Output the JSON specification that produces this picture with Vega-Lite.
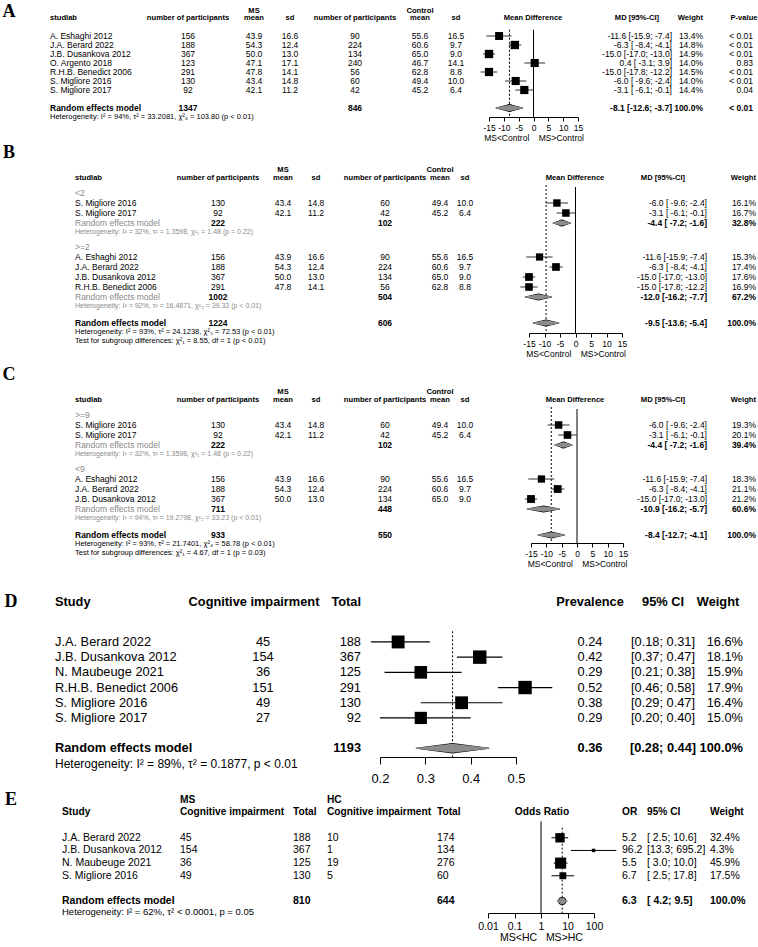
{
  "$schema": "https://vega.github.io/schema/vega-lite/v6.json",
  "padding": 0,
  "background": "white",
  "config": {"view": {"stroke": null}, "font": "Liberation Sans", "text": {"font": "Liberation Sans"}},
  "datasets": {
    "cells": [
      {"p":"A","row":-0.7,"col":0,"txt":"A","kind":"lab"},
      {"p":"A","row":-0.8,"col":3,"txt":"MS","kind":"head"},
      {"p":"A","row":-0.8,"col":6,"txt":"Control","kind":"head"},
      {"p":"A","row":0,"col":1,"txt":"studlab","kind":"head"},
      {"p":"A","row":0,"col":2,"txt":"number of participants","kind":"head"},
      {"p":"A","row":0,"col":3,"txt":"mean","kind":"head"},
      {"p":"A","row":0,"col":4,"txt":"sd","kind":"head"},
      {"p":"A","row":0,"col":5,"txt":"number of participants","kind":"head"},
      {"p":"A","row":0,"col":6,"txt":"mean","kind":"head"},
      {"p":"A","row":0,"col":7,"txt":"sd","kind":"head"},
      {"p":"A","row":0,"col":8,"txt":"Mean Difference","kind":"head"},
      {"p":"A","row":0,"col":9,"txt":"MD [95%-CI]","kind":"head"},
      {"p":"A","row":0,"col":11,"txt":"Weight","kind":"head"},
      {"p":"A","row":0,"col":12,"txt":"P-value","kind":"head"},
      {"p":"A","row":2,"col":1,"txt":"A. Eshaghi 2012","kind":"s"},
      {"p":"A","row":2,"col":2,"txt":"156","kind":"s"},
      {"p":"A","row":2,"col":3,"txt":"43.9","kind":"s"},
      {"p":"A","row":2,"col":4,"txt":"16.6","kind":"s"},
      {"p":"A","row":2,"col":5,"txt":"90","kind":"s"},
      {"p":"A","row":2,"col":6,"txt":"55.6","kind":"s"},
      {"p":"A","row":2,"col":7,"txt":"16.5","kind":"s"},
      {"p":"A","row":2,"col":10,"txt":"-11.6 [-15.9; -7.4]","kind":"s"},
      {"p":"A","row":2,"col":11,"txt":"13.4%","kind":"s"},
      {"p":"A","row":2,"col":13,"txt":"< 0.01","kind":"s"},
      {"p":"A","row":3,"col":1,"txt":"J.A. Berard 2022","kind":"s"},
      {"p":"A","row":3,"col":2,"txt":"188","kind":"s"},
      {"p":"A","row":3,"col":3,"txt":"54.3","kind":"s"},
      {"p":"A","row":3,"col":4,"txt":"12.4","kind":"s"},
      {"p":"A","row":3,"col":5,"txt":"224","kind":"s"},
      {"p":"A","row":3,"col":6,"txt":"60.6","kind":"s"},
      {"p":"A","row":3,"col":7,"txt":"9.7","kind":"s"},
      {"p":"A","row":3,"col":10,"txt":"-6.3 [ -8.4; -4.1]","kind":"s"},
      {"p":"A","row":3,"col":11,"txt":"14.8%","kind":"s"},
      {"p":"A","row":3,"col":13,"txt":"< 0.01","kind":"s"},
      {"p":"A","row":4,"col":1,"txt":"J.B. Dusankova 2012","kind":"s"},
      {"p":"A","row":4,"col":2,"txt":"367","kind":"s"},
      {"p":"A","row":4,"col":3,"txt":"50.0","kind":"s"},
      {"p":"A","row":4,"col":4,"txt":"13.0","kind":"s"},
      {"p":"A","row":4,"col":5,"txt":"134","kind":"s"},
      {"p":"A","row":4,"col":6,"txt":"65.0","kind":"s"},
      {"p":"A","row":4,"col":7,"txt":"9.0","kind":"s"},
      {"p":"A","row":4,"col":10,"txt":"-15.0 [-17.0; -13.0]","kind":"s"},
      {"p":"A","row":4,"col":11,"txt":"14.9%","kind":"s"},
      {"p":"A","row":4,"col":13,"txt":"< 0.01","kind":"s"},
      {"p":"A","row":5,"col":1,"txt":"O. Argento 2018","kind":"s"},
      {"p":"A","row":5,"col":2,"txt":"123","kind":"s"},
      {"p":"A","row":5,"col":3,"txt":"47.1","kind":"s"},
      {"p":"A","row":5,"col":4,"txt":"17.1","kind":"s"},
      {"p":"A","row":5,"col":5,"txt":"240","kind":"s"},
      {"p":"A","row":5,"col":6,"txt":"46.7","kind":"s"},
      {"p":"A","row":5,"col":7,"txt":"14.1","kind":"s"},
      {"p":"A","row":5,"col":10,"txt":"0.4 [ -3.1;  3.9]","kind":"s"},
      {"p":"A","row":5,"col":11,"txt":"14.0%","kind":"s"},
      {"p":"A","row":5,"col":13,"txt":"0.83","kind":"s"},
      {"p":"A","row":6,"col":1,"txt":"R.H.B. Benedict 2006","kind":"s"},
      {"p":"A","row":6,"col":2,"txt":"291","kind":"s"},
      {"p":"A","row":6,"col":3,"txt":"47.8","kind":"s"},
      {"p":"A","row":6,"col":4,"txt":"14.1","kind":"s"},
      {"p":"A","row":6,"col":5,"txt":"56","kind":"s"},
      {"p":"A","row":6,"col":6,"txt":"62.8","kind":"s"},
      {"p":"A","row":6,"col":7,"txt":"8.8","kind":"s"},
      {"p":"A","row":6,"col":10,"txt":"-15.0 [-17.8; -12.2]","kind":"s"},
      {"p":"A","row":6,"col":11,"txt":"14.5%","kind":"s"},
      {"p":"A","row":6,"col":13,"txt":"< 0.01","kind":"s"},
      {"p":"A","row":7,"col":1,"txt":"S. Migliore 2016","kind":"s"},
      {"p":"A","row":7,"col":2,"txt":"130","kind":"s"},
      {"p":"A","row":7,"col":3,"txt":"43.4","kind":"s"},
      {"p":"A","row":7,"col":4,"txt":"14.8","kind":"s"},
      {"p":"A","row":7,"col":5,"txt":"60","kind":"s"},
      {"p":"A","row":7,"col":6,"txt":"49.4","kind":"s"},
      {"p":"A","row":7,"col":7,"txt":"10.0","kind":"s"},
      {"p":"A","row":7,"col":10,"txt":"-6.0 [ -9.6; -2.4]","kind":"s"},
      {"p":"A","row":7,"col":11,"txt":"14.0%","kind":"s"},
      {"p":"A","row":7,"col":13,"txt":"< 0.01","kind":"s"},
      {"p":"A","row":8,"col":1,"txt":"S. Migliore 2017","kind":"s"},
      {"p":"A","row":8,"col":2,"txt":"92","kind":"s"},
      {"p":"A","row":8,"col":3,"txt":"42.1","kind":"s"},
      {"p":"A","row":8,"col":4,"txt":"11.2","kind":"s"},
      {"p":"A","row":8,"col":5,"txt":"42","kind":"s"},
      {"p":"A","row":8,"col":6,"txt":"45.2","kind":"s"},
      {"p":"A","row":8,"col":7,"txt":"6.4","kind":"s"},
      {"p":"A","row":8,"col":10,"txt":"-3.1 [ -6.1; -0.1]","kind":"s"},
      {"p":"A","row":8,"col":11,"txt":"14.4%","kind":"s"},
      {"p":"A","row":8,"col":13,"txt":"0.04","kind":"s"},
      {"p":"A","row":10,"col":1,"txt":"Random effects model","kind":"total"},
      {"p":"A","row":10,"col":2,"txt":"1347","kind":"total"},
      {"p":"A","row":10,"col":5,"txt":"846","kind":"total"},
      {"p":"A","row":10,"col":10,"txt":"-8.1 [-12.6; -3.7]","kind":"total"},
      {"p":"A","row":10,"col":11,"txt":"100.0%","kind":"total"},
      {"p":"A","row":10,"col":13,"txt":"< 0.01","kind":"total"},
      {"p":"A","row":11,"col":1,"txt":"Heterogeneity: I² = 94%, τ² = 33.2081, χ²₆ = 103.80 (p < 0.01)","kind":"het"},

      {"p":"B","row":-4,"col":0,"txt":"B","kind":"lab"},
      {"p":"B","row":-2.3,"col":3,"txt":"MS","kind":"head"},
      {"p":"B","row":-2.3,"col":6,"txt":"Control","kind":"head"},
      {"p":"B","row":-1.5,"col":1,"txt":"studlab","kind":"head"},
      {"p":"B","row":-1.5,"col":2,"txt":"number of participants","kind":"head"},
      {"p":"B","row":-1.5,"col":3,"txt":"mean","kind":"head"},
      {"p":"B","row":-1.5,"col":4,"txt":"sd","kind":"head"},
      {"p":"B","row":-1.5,"col":5,"txt":"number of participants","kind":"head"},
      {"p":"B","row":-1.5,"col":6,"txt":"mean","kind":"head"},
      {"p":"B","row":-1.5,"col":7,"txt":"sd","kind":"head"},
      {"p":"B","row":-1.5,"col":8,"txt":"Mean Difference","kind":"head"},
      {"p":"B","row":-1.5,"col":9,"txt":"MD [95%-CI]","kind":"head"},
      {"p":"B","row":-1.5,"col":11,"txt":"Weight","kind":"head"},
      {"p":"B","row":0,"col":1,"txt":"<2","kind":"sub"},
      {"p":"B","row":1,"col":1,"txt":"S. Migliore 2016","kind":"s"},
      {"p":"B","row":1,"col":2,"txt":"130","kind":"s"},
      {"p":"B","row":1,"col":3,"txt":"43.4","kind":"s"},
      {"p":"B","row":1,"col":4,"txt":"14.8","kind":"s"},
      {"p":"B","row":1,"col":5,"txt":"60","kind":"s"},
      {"p":"B","row":1,"col":6,"txt":"49.4","kind":"s"},
      {"p":"B","row":1,"col":7,"txt":"10.0","kind":"s"},
      {"p":"B","row":1,"col":10,"txt":"-6.0 [ -9.6; -2.4]","kind":"s"},
      {"p":"B","row":1,"col":11,"txt":"16.1%","kind":"s"},
      {"p":"B","row":2,"col":1,"txt":"S. Migliore 2017","kind":"s"},
      {"p":"B","row":2,"col":2,"txt":"92","kind":"s"},
      {"p":"B","row":2,"col":3,"txt":"42.1","kind":"s"},
      {"p":"B","row":2,"col":4,"txt":"11.2","kind":"s"},
      {"p":"B","row":2,"col":5,"txt":"42","kind":"s"},
      {"p":"B","row":2,"col":6,"txt":"45.2","kind":"s"},
      {"p":"B","row":2,"col":7,"txt":"6.4","kind":"s"},
      {"p":"B","row":2,"col":10,"txt":"-3.1 [ -6.1; -0.1]","kind":"s"},
      {"p":"B","row":2,"col":11,"txt":"16.7%","kind":"s"},
      {"p":"B","row":3,"col":1,"txt":"Random effects model","kind":"sublab"},
      {"p":"B","row":3,"col":2,"txt":"222","kind":"total"},
      {"p":"B","row":3,"col":5,"txt":"102","kind":"total"},
      {"p":"B","row":3,"col":10,"txt":"-4.4 [ -7.2; -1.6]","kind":"total"},
      {"p":"B","row":3,"col":11,"txt":"32.8%","kind":"total"},
      {"p":"B","row":3.9,"col":1,"txt":"Heterogeneity: I² = 32%, τ² = 1.3598, χ²₁ = 1.48 (p = 0.22)","kind":"subhet"},
      {"p":"B","row":5.4,"col":1,"txt":">=2","kind":"sub"},
      {"p":"B","row":6.4,"col":1,"txt":"A. Eshaghi 2012","kind":"s"},
      {"p":"B","row":6.4,"col":2,"txt":"156","kind":"s"},
      {"p":"B","row":6.4,"col":3,"txt":"43.9","kind":"s"},
      {"p":"B","row":6.4,"col":4,"txt":"16.6","kind":"s"},
      {"p":"B","row":6.4,"col":5,"txt":"90","kind":"s"},
      {"p":"B","row":6.4,"col":6,"txt":"55.6","kind":"s"},
      {"p":"B","row":6.4,"col":7,"txt":"16.5","kind":"s"},
      {"p":"B","row":6.4,"col":10,"txt":"-11.6 [-15.9; -7.4]","kind":"s"},
      {"p":"B","row":6.4,"col":11,"txt":"15.3%","kind":"s"},
      {"p":"B","row":7.4,"col":1,"txt":"J.A. Berard 2022","kind":"s"},
      {"p":"B","row":7.4,"col":2,"txt":"188","kind":"s"},
      {"p":"B","row":7.4,"col":3,"txt":"54.3","kind":"s"},
      {"p":"B","row":7.4,"col":4,"txt":"12.4","kind":"s"},
      {"p":"B","row":7.4,"col":5,"txt":"224","kind":"s"},
      {"p":"B","row":7.4,"col":6,"txt":"60.6","kind":"s"},
      {"p":"B","row":7.4,"col":7,"txt":"9.7","kind":"s"},
      {"p":"B","row":7.4,"col":10,"txt":"-6.3 [ -8.4; -4.1]","kind":"s"},
      {"p":"B","row":7.4,"col":11,"txt":"17.4%","kind":"s"},
      {"p":"B","row":8.4,"col":1,"txt":"J.B. Dusankova 2012","kind":"s"},
      {"p":"B","row":8.4,"col":2,"txt":"367","kind":"s"},
      {"p":"B","row":8.4,"col":3,"txt":"50.0","kind":"s"},
      {"p":"B","row":8.4,"col":4,"txt":"13.0","kind":"s"},
      {"p":"B","row":8.4,"col":5,"txt":"134","kind":"s"},
      {"p":"B","row":8.4,"col":6,"txt":"65.0","kind":"s"},
      {"p":"B","row":8.4,"col":7,"txt":"9.0","kind":"s"},
      {"p":"B","row":8.4,"col":10,"txt":"-15.0 [-17.0; -13.0]","kind":"s"},
      {"p":"B","row":8.4,"col":11,"txt":"17.6%","kind":"s"},
      {"p":"B","row":9.4,"col":1,"txt":"R.H.B. Benedict 2006","kind":"s"},
      {"p":"B","row":9.4,"col":2,"txt":"291","kind":"s"},
      {"p":"B","row":9.4,"col":3,"txt":"47.8","kind":"s"},
      {"p":"B","row":9.4,"col":4,"txt":"14.1","kind":"s"},
      {"p":"B","row":9.4,"col":5,"txt":"56","kind":"s"},
      {"p":"B","row":9.4,"col":6,"txt":"62.8","kind":"s"},
      {"p":"B","row":9.4,"col":7,"txt":"8.8","kind":"s"},
      {"p":"B","row":9.4,"col":10,"txt":"-15.0 [-17.8; -12.2]","kind":"s"},
      {"p":"B","row":9.4,"col":11,"txt":"16.9%","kind":"s"},
      {"p":"B","row":10.4,"col":1,"txt":"Random effects model","kind":"sublab"},
      {"p":"B","row":10.4,"col":2,"txt":"1002","kind":"total"},
      {"p":"B","row":10.4,"col":5,"txt":"504","kind":"total"},
      {"p":"B","row":10.4,"col":10,"txt":"-12.0 [-16.2; -7.7]","kind":"total"},
      {"p":"B","row":10.4,"col":11,"txt":"67.2%","kind":"total"},
      {"p":"B","row":11.3,"col":1,"txt":"Heterogeneity: I² = 92%, τ² = 16.4871, χ²₃ = 39.33 (p < 0.01)","kind":"subhet"},
      {"p":"B","row":13,"col":1,"txt":"Random effects model","kind":"total"},
      {"p":"B","row":13,"col":2,"txt":"1224","kind":"total"},
      {"p":"B","row":13,"col":5,"txt":"606","kind":"total"},
      {"p":"B","row":13,"col":10,"txt":"-9.5 [-13.6; -5.4]","kind":"total"},
      {"p":"B","row":13,"col":11,"txt":"100.0%","kind":"total"},
      {"p":"B","row":13.9,"col":1,"txt":"Heterogeneity: I² = 93%, τ² = 24.1238, χ²₅ = 72.53 (p < 0.01)","kind":"het"},
      {"p":"B","row":14.8,"col":1,"txt":"Test for subgroup differences: χ²₁ = 8.55, df = 1 (p < 0.01)","kind":"het"},

      {"p":"C","row":-4,"col":0,"txt":"C","kind":"lab"},
      {"p":"C","row":-2.3,"col":3,"txt":"MS","kind":"head"},
      {"p":"C","row":-2.3,"col":6,"txt":"Control","kind":"head"},
      {"p":"C","row":-1.5,"col":1,"txt":"studlab","kind":"head"},
      {"p":"C","row":-1.5,"col":2,"txt":"number of participants","kind":"head"},
      {"p":"C","row":-1.5,"col":3,"txt":"mean","kind":"head"},
      {"p":"C","row":-1.5,"col":4,"txt":"sd","kind":"head"},
      {"p":"C","row":-1.5,"col":5,"txt":"number of participants","kind":"head"},
      {"p":"C","row":-1.5,"col":6,"txt":"mean","kind":"head"},
      {"p":"C","row":-1.5,"col":7,"txt":"sd","kind":"head"},
      {"p":"C","row":-1.5,"col":8,"txt":"Mean Difference","kind":"head"},
      {"p":"C","row":-1.5,"col":9,"txt":"MD [95%-CI]","kind":"head"},
      {"p":"C","row":-1.5,"col":11,"txt":"Weight","kind":"head"},
      {"p":"C","row":0,"col":1,"txt":">=9","kind":"sub"},
      {"p":"C","row":1,"col":1,"txt":"S. Migliore 2016","kind":"s"},
      {"p":"C","row":1,"col":2,"txt":"130","kind":"s"},
      {"p":"C","row":1,"col":3,"txt":"43.4","kind":"s"},
      {"p":"C","row":1,"col":4,"txt":"14.8","kind":"s"},
      {"p":"C","row":1,"col":5,"txt":"60","kind":"s"},
      {"p":"C","row":1,"col":6,"txt":"49.4","kind":"s"},
      {"p":"C","row":1,"col":7,"txt":"10.0","kind":"s"},
      {"p":"C","row":1,"col":10,"txt":"-6.0 [ -9.6; -2.4]","kind":"s"},
      {"p":"C","row":1,"col":11,"txt":"19.3%","kind":"s"},
      {"p":"C","row":2,"col":1,"txt":"S. Migliore 2017","kind":"s"},
      {"p":"C","row":2,"col":2,"txt":"92","kind":"s"},
      {"p":"C","row":2,"col":3,"txt":"42.1","kind":"s"},
      {"p":"C","row":2,"col":4,"txt":"11.2","kind":"s"},
      {"p":"C","row":2,"col":5,"txt":"42","kind":"s"},
      {"p":"C","row":2,"col":6,"txt":"45.2","kind":"s"},
      {"p":"C","row":2,"col":7,"txt":"6.4","kind":"s"},
      {"p":"C","row":2,"col":10,"txt":"-3.1 [ -6.1; -0.1]","kind":"s"},
      {"p":"C","row":2,"col":11,"txt":"20.1%","kind":"s"},
      {"p":"C","row":3,"col":1,"txt":"Random effects model","kind":"sublab"},
      {"p":"C","row":3,"col":2,"txt":"222","kind":"total"},
      {"p":"C","row":3,"col":5,"txt":"102","kind":"total"},
      {"p":"C","row":3,"col":10,"txt":"-4.4 [ -7.2; -1.6]","kind":"total"},
      {"p":"C","row":3,"col":11,"txt":"39.4%","kind":"total"},
      {"p":"C","row":3.9,"col":1,"txt":"Heterogeneity: I² = 32%, τ² = 1.3598, χ²₁ = 1.48 (p = 0.22)","kind":"subhet"},
      {"p":"C","row":5.4,"col":1,"txt":"<9","kind":"sub"},
      {"p":"C","row":6.4,"col":1,"txt":"A. Eshaghi 2012","kind":"s"},
      {"p":"C","row":6.4,"col":2,"txt":"156","kind":"s"},
      {"p":"C","row":6.4,"col":3,"txt":"43.9","kind":"s"},
      {"p":"C","row":6.4,"col":4,"txt":"16.6","kind":"s"},
      {"p":"C","row":6.4,"col":5,"txt":"90","kind":"s"},
      {"p":"C","row":6.4,"col":6,"txt":"55.6","kind":"s"},
      {"p":"C","row":6.4,"col":7,"txt":"16.5","kind":"s"},
      {"p":"C","row":6.4,"col":10,"txt":"-11.6 [-15.9; -7.4]","kind":"s"},
      {"p":"C","row":6.4,"col":11,"txt":"18.3%","kind":"s"},
      {"p":"C","row":7.4,"col":1,"txt":"J.A. Berard 2022","kind":"s"},
      {"p":"C","row":7.4,"col":2,"txt":"188","kind":"s"},
      {"p":"C","row":7.4,"col":3,"txt":"54.3","kind":"s"},
      {"p":"C","row":7.4,"col":4,"txt":"12.4","kind":"s"},
      {"p":"C","row":7.4,"col":5,"txt":"224","kind":"s"},
      {"p":"C","row":7.4,"col":6,"txt":"60.6","kind":"s"},
      {"p":"C","row":7.4,"col":7,"txt":"9.7","kind":"s"},
      {"p":"C","row":7.4,"col":10,"txt":"-6.3 [ -8.4; -4.1]","kind":"s"},
      {"p":"C","row":7.4,"col":11,"txt":"21.1%","kind":"s"},
      {"p":"C","row":8.4,"col":1,"txt":"J.B. Dusankova 2012","kind":"s"},
      {"p":"C","row":8.4,"col":2,"txt":"367","kind":"s"},
      {"p":"C","row":8.4,"col":3,"txt":"50.0","kind":"s"},
      {"p":"C","row":8.4,"col":4,"txt":"13.0","kind":"s"},
      {"p":"C","row":8.4,"col":5,"txt":"134","kind":"s"},
      {"p":"C","row":8.4,"col":6,"txt":"65.0","kind":"s"},
      {"p":"C","row":8.4,"col":7,"txt":"9.0","kind":"s"},
      {"p":"C","row":8.4,"col":10,"txt":"-15.0 [-17.0; -13.0]","kind":"s"},
      {"p":"C","row":8.4,"col":11,"txt":"21.2%","kind":"s"},
      {"p":"C","row":9.4,"col":1,"txt":"Random effects model","kind":"sublab"},
      {"p":"C","row":9.4,"col":2,"txt":"711","kind":"total"},
      {"p":"C","row":9.4,"col":5,"txt":"448","kind":"total"},
      {"p":"C","row":9.4,"col":10,"txt":"-10.9 [-16.2; -5.7]","kind":"total"},
      {"p":"C","row":9.4,"col":11,"txt":"60.6%","kind":"total"},
      {"p":"C","row":10.3,"col":1,"txt":"Heterogeneity: I² = 94%, τ² = 19.2798, χ²₂ = 33.23 (p < 0.01)","kind":"subhet"},
      {"p":"C","row":12,"col":1,"txt":"Random effects model","kind":"total"},
      {"p":"C","row":12,"col":2,"txt":"933","kind":"total"},
      {"p":"C","row":12,"col":5,"txt":"550","kind":"total"},
      {"p":"C","row":12,"col":10,"txt":"-8.4 [-12.7; -4.1]","kind":"total"},
      {"p":"C","row":12,"col":11,"txt":"100.0%","kind":"total"},
      {"p":"C","row":12.9,"col":1,"txt":"Heterogeneity: I² = 93%, τ² = 21.7401, χ²₄ = 58.78 (p < 0.01)","kind":"het"},
      {"p":"C","row":13.8,"col":1,"txt":"Test for subgroup differences: χ²₁ = 4.67, df = 1 (p = 0.03)","kind":"het"},

      {"p":"D","row":-2.6,"col":0,"txt":"D","kind":"lab"},
      {"p":"D","row":-2.6,"col":1,"txt":"Study","kind":"head"},
      {"p":"D","row":-2.6,"col":2,"txt":"Cognitive impairment","kind":"head"},
      {"p":"D","row":-2.6,"col":4,"txt":"Total","kind":"head"},
      {"p":"D","row":-2.6,"col":5,"txt":"Prevalence","kind":"head"},
      {"p":"D","row":-2.6,"col":6,"txt":"95% CI","kind":"head"},
      {"p":"D","row":-2.6,"col":7,"txt":"Weight","kind":"head"},
      {"p":"D","row":0,"col":1,"txt":"J.A. Berard 2022","kind":"s"},
      {"p":"D","row":0,"col":3,"txt":"45","kind":"s"},
      {"p":"D","row":0,"col":4,"txt":"188","kind":"s"},
      {"p":"D","row":0,"col":5,"txt":"0.24","kind":"s"},
      {"p":"D","row":0,"col":6,"txt":"[0.18; 0.31]","kind":"s"},
      {"p":"D","row":0,"col":8,"txt":"16.6%","kind":"s"},
      {"p":"D","row":1,"col":1,"txt":"J.B. Dusankova 2012","kind":"s"},
      {"p":"D","row":1,"col":3,"txt":"154","kind":"s"},
      {"p":"D","row":1,"col":4,"txt":"367","kind":"s"},
      {"p":"D","row":1,"col":5,"txt":"0.42","kind":"s"},
      {"p":"D","row":1,"col":6,"txt":"[0.37; 0.47]","kind":"s"},
      {"p":"D","row":1,"col":8,"txt":"18.1%","kind":"s"},
      {"p":"D","row":2,"col":1,"txt":"N. Maubeuge 2021","kind":"s"},
      {"p":"D","row":2,"col":3,"txt":"36","kind":"s"},
      {"p":"D","row":2,"col":4,"txt":"125","kind":"s"},
      {"p":"D","row":2,"col":5,"txt":"0.29","kind":"s"},
      {"p":"D","row":2,"col":6,"txt":"[0.21; 0.38]","kind":"s"},
      {"p":"D","row":2,"col":8,"txt":"15.9%","kind":"s"},
      {"p":"D","row":3,"col":1,"txt":"R.H.B. Benedict 2006","kind":"s"},
      {"p":"D","row":3,"col":3,"txt":"151","kind":"s"},
      {"p":"D","row":3,"col":4,"txt":"291","kind":"s"},
      {"p":"D","row":3,"col":5,"txt":"0.52","kind":"s"},
      {"p":"D","row":3,"col":6,"txt":"[0.46; 0.58]","kind":"s"},
      {"p":"D","row":3,"col":8,"txt":"17.9%","kind":"s"},
      {"p":"D","row":4,"col":1,"txt":"S. Migliore 2016","kind":"s"},
      {"p":"D","row":4,"col":3,"txt":"49","kind":"s"},
      {"p":"D","row":4,"col":4,"txt":"130","kind":"s"},
      {"p":"D","row":4,"col":5,"txt":"0.38","kind":"s"},
      {"p":"D","row":4,"col":6,"txt":"[0.29; 0.47]","kind":"s"},
      {"p":"D","row":4,"col":8,"txt":"16.4%","kind":"s"},
      {"p":"D","row":5,"col":1,"txt":"S. Migliore 2017","kind":"s"},
      {"p":"D","row":5,"col":3,"txt":"27","kind":"s"},
      {"p":"D","row":5,"col":4,"txt":"92","kind":"s"},
      {"p":"D","row":5,"col":5,"txt":"0.29","kind":"s"},
      {"p":"D","row":5,"col":6,"txt":"[0.20; 0.40]","kind":"s"},
      {"p":"D","row":5,"col":8,"txt":"15.0%","kind":"s"},
      {"p":"D","row":7,"col":1,"txt":"Random effects model","kind":"total"},
      {"p":"D","row":7,"col":4,"txt":"1193","kind":"total"},
      {"p":"D","row":7,"col":5,"txt":"0.36","kind":"total"},
      {"p":"D","row":7,"col":6,"txt":"[0.28; 0.44]","kind":"total"},
      {"p":"D","row":7,"col":8,"txt":"100.0%","kind":"total"},
      {"p":"D","row":8,"col":1,"txt":"Heterogeneity: I² = 89%, τ² = 0.1877, p < 0.01","kind":"het"},

      {"p":"E","row":-3,"col":0,"txt":"E","kind":"lab"},
      {"p":"E","row":-3,"col":2,"txt":"MS","kind":"head"},
      {"p":"E","row":-3,"col":4,"txt":"HC","kind":"head"},
      {"p":"E","row":-2,"col":1,"txt":"Study","kind":"head"},
      {"p":"E","row":-2,"col":2,"txt":"Cognitive impairment","kind":"head"},
      {"p":"E","row":-2,"col":3,"txt":"Total","kind":"head"},
      {"p":"E","row":-2,"col":4,"txt":"Cognitive impairment","kind":"head"},
      {"p":"E","row":-2,"col":5,"txt":"Total","kind":"head"},
      {"p":"E","row":-2,"col":6,"txt":"Odds Ratio","kind":"head"},
      {"p":"E","row":-2,"col":7,"txt":"OR","kind":"head"},
      {"p":"E","row":-2,"col":8,"txt":"95% CI","kind":"head"},
      {"p":"E","row":-2,"col":9,"txt":"Weight","kind":"head"},
      {"p":"E","row":0,"col":1,"txt":"J.A. Berard 2022","kind":"s"},
      {"p":"E","row":0,"col":2,"txt":"45","kind":"s"},
      {"p":"E","row":0,"col":3,"txt":"188","kind":"s"},
      {"p":"E","row":0,"col":4,"txt":"10","kind":"s"},
      {"p":"E","row":0,"col":5,"txt":"174","kind":"s"},
      {"p":"E","row":0,"col":7,"txt":"5.2","kind":"s"},
      {"p":"E","row":0,"col":8,"txt":"[ 2.5; 10.6]","kind":"s"},
      {"p":"E","row":0,"col":9,"txt":"32.4%","kind":"s"},
      {"p":"E","row":1,"col":1,"txt":"J.B. Dusankova 2012","kind":"s"},
      {"p":"E","row":1,"col":2,"txt":"154","kind":"s"},
      {"p":"E","row":1,"col":3,"txt":"367","kind":"s"},
      {"p":"E","row":1,"col":4,"txt":"1","kind":"s"},
      {"p":"E","row":1,"col":5,"txt":"134","kind":"s"},
      {"p":"E","row":1,"col":7,"txt":"96.2","kind":"s"},
      {"p":"E","row":1,"col":8,"txt":"[13.3; 695.2]","kind":"s"},
      {"p":"E","row":1,"col":9,"txt":"4.3%","kind":"s"},
      {"p":"E","row":2,"col":1,"txt":"N. Maubeuge 2021","kind":"s"},
      {"p":"E","row":2,"col":2,"txt":"36","kind":"s"},
      {"p":"E","row":2,"col":3,"txt":"125","kind":"s"},
      {"p":"E","row":2,"col":4,"txt":"19","kind":"s"},
      {"p":"E","row":2,"col":5,"txt":"276","kind":"s"},
      {"p":"E","row":2,"col":7,"txt":"5.5","kind":"s"},
      {"p":"E","row":2,"col":8,"txt":"[ 3.0; 10.0]","kind":"s"},
      {"p":"E","row":2,"col":9,"txt":"45.9%","kind":"s"},
      {"p":"E","row":3,"col":1,"txt":"S. Migliore 2016","kind":"s"},
      {"p":"E","row":3,"col":2,"txt":"49","kind":"s"},
      {"p":"E","row":3,"col":3,"txt":"130","kind":"s"},
      {"p":"E","row":3,"col":4,"txt":"5","kind":"s"},
      {"p":"E","row":3,"col":5,"txt":"60","kind":"s"},
      {"p":"E","row":3,"col":7,"txt":"6.7","kind":"s"},
      {"p":"E","row":3,"col":8,"txt":"[ 2.5; 17.8]","kind":"s"},
      {"p":"E","row":3,"col":9,"txt":"17.5%","kind":"s"},
      {"p":"E","row":5,"col":1,"txt":"Random effects model","kind":"total"},
      {"p":"E","row":5,"col":3,"txt":"810","kind":"total"},
      {"p":"E","row":5,"col":5,"txt":"644","kind":"total"},
      {"p":"E","row":5,"col":7,"txt":"6.3","kind":"total"},
      {"p":"E","row":5,"col":8,"txt":"[ 4.2;  9.5]","kind":"total"},
      {"p":"E","row":5,"col":9,"txt":"100.0%","kind":"total"},
      {"p":"E","row":5.9,"col":1,"txt":"Heterogeneity: I² = 62%, τ² < 0.0001, p = 0.05","kind":"het"}
    ],
    "est": [
      {"p":"A","row":2,"est":-11.6,"lo":-15.9,"hi":-7.4,"w":13.4},
      {"p":"A","row":3,"est":-6.3,"lo":-8.4,"hi":-4.1,"w":14.8},
      {"p":"A","row":4,"est":-15.0,"lo":-17.0,"hi":-13.0,"w":14.9},
      {"p":"A","row":5,"est":0.4,"lo":-3.1,"hi":3.9,"w":14.0},
      {"p":"A","row":6,"est":-15.0,"lo":-17.8,"hi":-12.2,"w":14.5},
      {"p":"A","row":7,"est":-6.0,"lo":-9.6,"hi":-2.4,"w":14.0},
      {"p":"A","row":8,"est":-3.1,"lo":-6.1,"hi":-0.1,"w":14.4},
      {"p":"B","row":1,"est":-6.0,"lo":-9.6,"hi":-2.4,"w":16.1},
      {"p":"B","row":2,"est":-3.1,"lo":-6.1,"hi":-0.1,"w":16.7},
      {"p":"B","row":6.4,"est":-11.6,"lo":-15.9,"hi":-7.4,"w":15.3},
      {"p":"B","row":7.4,"est":-6.3,"lo":-8.4,"hi":-4.1,"w":17.4},
      {"p":"B","row":8.4,"est":-15.0,"lo":-17.0,"hi":-13.0,"w":17.6},
      {"p":"B","row":9.4,"est":-15.0,"lo":-17.8,"hi":-12.2,"w":16.9},
      {"p":"C","row":1,"est":-6.0,"lo":-9.6,"hi":-2.4,"w":19.3},
      {"p":"C","row":2,"est":-3.1,"lo":-6.1,"hi":-0.1,"w":20.1},
      {"p":"C","row":6.4,"est":-11.6,"lo":-15.9,"hi":-7.4,"w":18.3},
      {"p":"C","row":7.4,"est":-6.3,"lo":-8.4,"hi":-4.1,"w":21.1},
      {"p":"C","row":8.4,"est":-15.0,"lo":-17.0,"hi":-13.0,"w":21.2},
      {"p":"D","row":0,"est":0.24,"lo":0.18,"hi":0.31,"w":16.6},
      {"p":"D","row":1,"est":0.42,"lo":0.37,"hi":0.47,"w":18.1},
      {"p":"D","row":2,"est":0.29,"lo":0.21,"hi":0.38,"w":15.9},
      {"p":"D","row":3,"est":0.52,"lo":0.46,"hi":0.58,"w":17.9},
      {"p":"D","row":4,"est":0.38,"lo":0.29,"hi":0.47,"w":16.4},
      {"p":"D","row":5,"est":0.29,"lo":0.20,"hi":0.40,"w":15.0},
      {"p":"E","row":0,"est":5.2,"lo":2.5,"hi":10.6,"w":32.4},
      {"p":"E","row":1,"est":96.2,"lo":13.3,"hi":695.2,"w":4.3},
      {"p":"E","row":2,"est":5.5,"lo":3.0,"hi":10.0,"w":45.9},
      {"p":"E","row":3,"est":6.7,"lo":2.5,"hi":17.8,"w":17.5}
    ],
    "dia": [
      {"p":"A","row":10,"x":-12.6,"v":"tip"},{"p":"A","row":10,"x":-8.1,"v":"mid"},{"p":"A","row":10,"x":-3.7,"v":"tip"},
      {"p":"B","row":3,"x":-7.2,"v":"tip"},{"p":"B","row":3,"x":-4.4,"v":"mid"},{"p":"B","row":3,"x":-1.6,"v":"tip"},
      {"p":"B","row":10.4,"x":-16.2,"v":"tip"},{"p":"B","row":10.4,"x":-12.0,"v":"mid"},{"p":"B","row":10.4,"x":-7.7,"v":"tip"},
      {"p":"B","row":13,"x":-13.6,"v":"tip"},{"p":"B","row":13,"x":-9.5,"v":"mid"},{"p":"B","row":13,"x":-5.4,"v":"tip"},
      {"p":"C","row":3,"x":-7.2,"v":"tip"},{"p":"C","row":3,"x":-4.4,"v":"mid"},{"p":"C","row":3,"x":-1.6,"v":"tip"},
      {"p":"C","row":9.4,"x":-16.2,"v":"tip"},{"p":"C","row":9.4,"x":-10.9,"v":"mid"},{"p":"C","row":9.4,"x":-5.7,"v":"tip"},
      {"p":"C","row":12,"x":-12.7,"v":"tip"},{"p":"C","row":12,"x":-8.4,"v":"mid"},{"p":"C","row":12,"x":-4.1,"v":"tip"},
      {"p":"D","row":7,"x":0.28,"v":"tip"},{"p":"D","row":7,"x":0.36,"v":"mid"},{"p":"D","row":7,"x":0.44,"v":"tip"},
      {"p":"E","row":5,"x":4.2,"v":"tip"},{"p":"E","row":5,"x":6.3,"v":"mid"},{"p":"E","row":5,"x":9.5,"v":"tip"}
    ],
    "ref": [
      {"p":"A","x":0,"from":1.3,"to":11,"lt":"null"},
      {"p":"A","x":-8.1,"from":1.3,"to":11,"lt":"pooled"},
      {"p":"B","x":0,"from":-0.6,"to":14,"lt":"null"},
      {"p":"B","x":-9.5,"from":-0.8,"to":14,"lt":"pooled"},
      {"p":"C","x":0,"from":-0.6,"to":12.8,"lt":"null"},
      {"p":"C","x":-8.4,"from":-0.8,"to":12.8,"lt":"pooled"},
      {"p":"D","x":0.36,"from":-0.7,"to":7.57,"lt":"pooled"},
      {"p":"E","x":1,"from":-1.3,"to":5.94,"lt":"null"},
      {"p":"E","x":6.3,"from":-0.8,"to":5.94,"lt":"pooled"}
    ]
  },
  "spacing": 0,
  "bounds": "flush",
  "vconcat": [
    {
      "width": 758, "height": 117,
      "layer": [
        {
          "encoding": {
            "x": {"type": "quantitative", "scale": {"domain": [-15, 15], "range": [489, 578], "nice": false, "zero": false},
                  "axis": {"orient": "bottom", "values": [-15,-10,-5,0,5,10,15], "labelExpr": "'' + datum.value", "grid": false, "domainColor": "black", "tickColor": "black", "tickSize": 4, "labelFontSize": 8.5, "labelColor": "black", "labelPadding": 2, "labelFlush": false, "labelOverlap": false, "title": "MS<Control\u00a0\u00a0\u00a0\u00a0MS>Control", "titleFontSize": 8.5, "titleFontWeight": "normal", "titleColor": "black", "titlePadding": 2}},
            "y": {"type": "quantitative", "scale": {"domain": [-2, 11], "reverse": true, "nice": false, "zero": false}, "axis": null}
          },
          "layer": [
            {"data": {"name": "est"}, "transform": [{"filter": "datum.p=='A'"}], "mark": {"type": "rule", "color": "#333333", "strokeWidth": 1},
             "encoding": {"x": {"field": "lo"}, "x2": {"field": "hi"}, "y": {"field": "row"}}},
            {"data": {"name": "ref"}, "transform": [{"filter": "datum.p=='A' && datum.lt=='null'"}], "mark": {"type": "rule", "color": "black", "strokeWidth": 1},
             "encoding": {"x": {"field": "x"}, "y": {"field": "from"}, "y2": {"field": "to"}}},
            {"data": {"name": "ref"}, "transform": [{"filter": "datum.p=='A' && datum.lt=='pooled'"}], "mark": {"type": "rule", "color": "black", "strokeWidth": 1, "strokeDash": [2, 2]},
             "encoding": {"x": {"field": "x"}, "y": {"field": "from"}, "y2": {"field": "to"}}},
            {"data": {"name": "est"}, "transform": [{"filter": "datum.p=='A'"}], "mark": {"type": "square", "color": "black", "filled": true, "opacity": 1},
             "encoding": {"x": {"field": "est"}, "y": {"field": "row"},
                          "size": {"field": "w", "type": "quantitative", "scale": {"domain": [0, 100], "range": [0, 470]}, "legend": null}}},
            {"data": {"name": "dia"}, "transform": [{"filter": "datum.p=='A'"}], "mark": {"type": "trail", "color": "black"},
             "encoding": {"x": {"field": "x"}, "y": {"field": "row"}, "detail": {"field": "row", "type": "quantitative"},
                          "size": {"field": "v", "type": "ordinal", "scale": {"type": "ordinal", "domain": ["tip", "mid"], "range": [0, 8]}, "legend": null}}},
            {"data": {"name": "dia"}, "transform": [{"filter": "datum.p=='A'"}], "mark": {"type": "trail", "color": "#8c8c8c"},
             "encoding": {"x": {"field": "x"}, "y": {"field": "row"}, "detail": {"field": "row", "type": "quantitative"},
                          "size": {"field": "v", "type": "ordinal", "scale": {"type": "ordinal", "domain": ["tip", "mid"], "range": [0, 6.5]}, "legend": null}}}
          ],
          "resolve": {"scale": {"size": "independent"}}
        },
        {
          "data": {"name": "cells"},
          "transform": [{"filter": "datum.p=='A'"}],
          "encoding": {
            "x": {"field": "col", "type": "quantitative", "scale": {"domain": [0,1,2,3,4,5,6,7,8,9,10,11,12,13], "range": [9,50,188,254,290,355,420,456,533,637,672,703,744,753], "nice": false, "zero": false}, "axis": null},
            "y": {"field": "row", "type": "quantitative", "scale": {"domain": [-2, 11], "reverse": true, "nice": false, "zero": false}, "axis": null},
            "text": {"field": "txt"},
            "color": {"condition": {"test": "indexof(['sub','sublab','subhet'],datum.kind)>=0", "value": "#8a8a8a"}, "value": "black"},
            "size": {"condition": [{"test": "datum.kind=='head'", "value": 7.6}, {"test": "datum.kind=='het'", "value": 7.5}, {"test": "datum.kind=='subhet'", "value": 7}], "value": 8.5}
          },
          "layer": [
            {"transform": [{"filter": "datum.col==1 && indexof(['head','total','lab'],datum.kind)<0"}], "mark": {"type": "text", "align": "left", "baseline": "middle"}},
            {"transform": [{"filter": "datum.col==1 && (datum.kind=='head'||datum.kind=='total')"}], "mark": {"type": "text", "align": "left", "baseline": "middle", "fontWeight": "bold"}},
            {"transform": [{"filter": "indexof([2,3,4,5,6,7,8,9,12],datum.col)>=0 && indexof(['head','total','lab'],datum.kind)<0"}], "mark": {"type": "text", "align": "center", "baseline": "middle"}},
            {"transform": [{"filter": "indexof([2,3,4,5,6,7,8,9,12],datum.col)>=0 && (datum.kind=='head'||datum.kind=='total')"}], "mark": {"type": "text", "align": "center", "baseline": "middle", "fontWeight": "bold"}},
            {"transform": [{"filter": "indexof([10,11,13],datum.col)>=0 && indexof(['head','total','lab'],datum.kind)<0"}], "mark": {"type": "text", "align": "right", "baseline": "middle"}},
            {"transform": [{"filter": "indexof([10,11,13],datum.col)>=0 && (datum.kind=='head'||datum.kind=='total')"}], "mark": {"type": "text", "align": "right", "baseline": "middle", "fontWeight": "bold"}},
            {"transform": [{"filter": "datum.kind=='lab'"}], "mark": {"type": "text", "align": "center", "baseline": "middle", "font": "Liberation Serif", "fontWeight": "bold"}, "encoding": {"size": {"value": 18}}}
          ]
        }
      ],
      "resolve": {"scale": {"x": "independent"}, "axis": {"x": "independent"}}
    },
    {
      "width": 758, "height": 216,
      "layer": [
        {
          "encoding": {
            "x": {"type": "quantitative", "scale": {"domain": [-15, 15], "range": [529, 622], "nice": false, "zero": false},
                  "axis": {"orient": "bottom", "values": [-15,-10,-5,0,5,10,15], "labelExpr": "'' + datum.value", "grid": false, "domainColor": "black", "tickColor": "black", "tickSize": 4, "labelFontSize": 8.5, "labelColor": "black", "labelPadding": 2, "labelFlush": false, "labelOverlap": false, "title": "MS<Control\u00a0\u00a0\u00a0\u00a0MS>Control", "titleFontSize": 8.5, "titleFontWeight": "normal", "titleColor": "black", "titlePadding": 2}},
            "y": {"type": "quantitative", "scale": {"domain": [-7.6, 14], "reverse": true, "nice": false, "zero": false}, "axis": null}
          },
          "layer": [
            {"data": {"name": "est"}, "transform": [{"filter": "datum.p=='B'"}], "mark": {"type": "rule", "color": "#333333", "strokeWidth": 1},
             "encoding": {"x": {"field": "lo"}, "x2": {"field": "hi"}, "y": {"field": "row"}}},
            {"data": {"name": "ref"}, "transform": [{"filter": "datum.p=='B' && datum.lt=='null'"}], "mark": {"type": "rule", "color": "black", "strokeWidth": 1},
             "encoding": {"x": {"field": "x"}, "y": {"field": "from"}, "y2": {"field": "to"}}},
            {"data": {"name": "ref"}, "transform": [{"filter": "datum.p=='B' && datum.lt=='pooled'"}], "mark": {"type": "rule", "color": "black", "strokeWidth": 1, "strokeDash": [2, 2]},
             "encoding": {"x": {"field": "x"}, "y": {"field": "from"}, "y2": {"field": "to"}}},
            {"data": {"name": "est"}, "transform": [{"filter": "datum.p=='B'"}], "mark": {"type": "square", "color": "black", "filled": true, "opacity": 1},
             "encoding": {"x": {"field": "est"}, "y": {"field": "row"},
                          "size": {"field": "w", "type": "quantitative", "scale": {"domain": [0, 100], "range": [0, 340]}, "legend": null}}},
            {"data": {"name": "dia"}, "transform": [{"filter": "datum.p=='B'"}], "mark": {"type": "trail", "color": "black"},
             "encoding": {"x": {"field": "x"}, "y": {"field": "row"}, "detail": {"field": "row", "type": "quantitative"},
                          "size": {"field": "v", "type": "ordinal", "scale": {"type": "ordinal", "domain": ["tip", "mid"], "range": [0, 7]}, "legend": null}}},
            {"data": {"name": "dia"}, "transform": [{"filter": "datum.p=='B'"}], "mark": {"type": "trail", "color": "#8c8c8c"},
             "encoding": {"x": {"field": "x"}, "y": {"field": "row"}, "detail": {"field": "row", "type": "quantitative"},
                          "size": {"field": "v", "type": "ordinal", "scale": {"type": "ordinal", "domain": ["tip", "mid"], "range": [0, 5.5]}, "legend": null}}}
          ],
          "resolve": {"scale": {"size": "independent"}}
        },
        {
          "data": {"name": "cells"},
          "transform": [{"filter": "datum.p=='B'"}],
          "encoding": {
            "x": {"field": "col", "type": "quantitative", "scale": {"domain": [0,1,2,3,4,5,6,7,8,9,10,11], "range": [9,75,218,283,316,385,440,465,575,663,707,756], "nice": false, "zero": false}, "axis": null},
            "y": {"field": "row", "type": "quantitative", "scale": {"domain": [-7.6, 14], "reverse": true, "nice": false, "zero": false}, "axis": null},
            "text": {"field": "txt"},
            "color": {"condition": {"test": "indexof(['sub','sublab','subhet'],datum.kind)>=0", "value": "#8a8a8a"}, "value": "black"},
            "size": {"condition": [{"test": "datum.kind=='head'", "value": 7.6}, {"test": "datum.kind=='het'", "value": 7.5}, {"test": "datum.kind=='subhet'", "value": 7}], "value": 8.5}
          },
          "layer": [
            {"transform": [{"filter": "datum.col==1 && indexof(['head','total','lab'],datum.kind)<0"}], "mark": {"type": "text", "align": "left", "baseline": "middle"}},
            {"transform": [{"filter": "datum.col==1 && (datum.kind=='head'||datum.kind=='total')"}], "mark": {"type": "text", "align": "left", "baseline": "middle", "fontWeight": "bold"}},
            {"transform": [{"filter": "indexof([2,3,4,5,6,7,8,9],datum.col)>=0 && indexof(['head','total','lab'],datum.kind)<0"}], "mark": {"type": "text", "align": "center", "baseline": "middle"}},
            {"transform": [{"filter": "indexof([2,3,4,5,6,7,8,9],datum.col)>=0 && (datum.kind=='head'||datum.kind=='total')"}], "mark": {"type": "text", "align": "center", "baseline": "middle", "fontWeight": "bold"}},
            {"transform": [{"filter": "indexof([10,11],datum.col)>=0 && indexof(['head','total','lab'],datum.kind)<0"}], "mark": {"type": "text", "align": "right", "baseline": "middle"}},
            {"transform": [{"filter": "indexof([10,11],datum.col)>=0 && (datum.kind=='head'||datum.kind=='total')"}], "mark": {"type": "text", "align": "right", "baseline": "middle", "fontWeight": "bold"}},
            {"transform": [{"filter": "datum.kind=='lab'"}], "mark": {"type": "text", "align": "center", "baseline": "middle", "font": "Liberation Serif", "fontWeight": "bold"}, "encoding": {"size": {"value": 18}}}
          ]
        }
      ],
      "resolve": {"scale": {"x": "independent"}, "axis": {"x": "independent"}}
    },
    {
      "width": 758, "height": 210,
      "layer": [
        {
          "encoding": {
            "x": {"type": "quantitative", "scale": {"domain": [-15, 15], "range": [531, 623], "nice": false, "zero": false},
                  "axis": {"orient": "bottom", "values": [-15,-10,-5,0,5,10,15], "labelExpr": "'' + datum.value", "grid": false, "domainColor": "black", "tickColor": "black", "tickSize": 4, "labelFontSize": 8.5, "labelColor": "black", "labelPadding": 2, "labelFlush": false, "labelOverlap": false, "title": "MS<Control\u00a0\u00a0\u00a0\u00a0MS>Control", "titleFontSize": 8.5, "titleFontWeight": "normal", "titleColor": "black", "titlePadding": 2}},
            "y": {"type": "quantitative", "scale": {"domain": [-8.2, 12.8], "reverse": true, "nice": false, "zero": false}, "axis": null}
          },
          "layer": [
            {"data": {"name": "est"}, "transform": [{"filter": "datum.p=='C'"}], "mark": {"type": "rule", "color": "#333333", "strokeWidth": 1},
             "encoding": {"x": {"field": "lo"}, "x2": {"field": "hi"}, "y": {"field": "row"}}},
            {"data": {"name": "ref"}, "transform": [{"filter": "datum.p=='C' && datum.lt=='null'"}], "mark": {"type": "rule", "color": "black", "strokeWidth": 1},
             "encoding": {"x": {"field": "x"}, "y": {"field": "from"}, "y2": {"field": "to"}}},
            {"data": {"name": "ref"}, "transform": [{"filter": "datum.p=='C' && datum.lt=='pooled'"}], "mark": {"type": "rule", "color": "black", "strokeWidth": 1, "strokeDash": [2, 2]},
             "encoding": {"x": {"field": "x"}, "y": {"field": "from"}, "y2": {"field": "to"}}},
            {"data": {"name": "est"}, "transform": [{"filter": "datum.p=='C'"}], "mark": {"type": "square", "color": "black", "filled": true, "opacity": 1},
             "encoding": {"x": {"field": "est"}, "y": {"field": "row"},
                          "size": {"field": "w", "type": "quantitative", "scale": {"domain": [0, 100], "range": [0, 290]}, "legend": null}}},
            {"data": {"name": "dia"}, "transform": [{"filter": "datum.p=='C'"}], "mark": {"type": "trail", "color": "black"},
             "encoding": {"x": {"field": "x"}, "y": {"field": "row"}, "detail": {"field": "row", "type": "quantitative"},
                          "size": {"field": "v", "type": "ordinal", "scale": {"type": "ordinal", "domain": ["tip", "mid"], "range": [0, 7]}, "legend": null}}},
            {"data": {"name": "dia"}, "transform": [{"filter": "datum.p=='C'"}], "mark": {"type": "trail", "color": "#8c8c8c"},
             "encoding": {"x": {"field": "x"}, "y": {"field": "row"}, "detail": {"field": "row", "type": "quantitative"},
                          "size": {"field": "v", "type": "ordinal", "scale": {"type": "ordinal", "domain": ["tip", "mid"], "range": [0, 5.5]}, "legend": null}}}
          ],
          "resolve": {"scale": {"size": "independent"}}
        },
        {
          "data": {"name": "cells"},
          "transform": [{"filter": "datum.p=='C'"}],
          "encoding": {
            "x": {"field": "col", "type": "quantitative", "scale": {"domain": [0,1,2,3,4,5,6,7,8,9,10,11], "range": [9,75,218,283,316,385,440,465,575,663,707,756], "nice": false, "zero": false}, "axis": null},
            "y": {"field": "row", "type": "quantitative", "scale": {"domain": [-8.2, 12.8], "reverse": true, "nice": false, "zero": false}, "axis": null},
            "text": {"field": "txt"},
            "color": {"condition": {"test": "indexof(['sub','sublab','subhet'],datum.kind)>=0", "value": "#8a8a8a"}, "value": "black"},
            "size": {"condition": [{"test": "datum.kind=='head'", "value": 7.6}, {"test": "datum.kind=='het'", "value": 7.5}, {"test": "datum.kind=='subhet'", "value": 7}], "value": 8.5}
          },
          "layer": [
            {"transform": [{"filter": "datum.col==1 && indexof(['head','total','lab'],datum.kind)<0"}], "mark": {"type": "text", "align": "left", "baseline": "middle"}},
            {"transform": [{"filter": "datum.col==1 && (datum.kind=='head'||datum.kind=='total')"}], "mark": {"type": "text", "align": "left", "baseline": "middle", "fontWeight": "bold"}},
            {"transform": [{"filter": "indexof([2,3,4,5,6,7,8,9],datum.col)>=0 && indexof(['head','total','lab'],datum.kind)<0"}], "mark": {"type": "text", "align": "center", "baseline": "middle"}},
            {"transform": [{"filter": "indexof([2,3,4,5,6,7,8,9],datum.col)>=0 && (datum.kind=='head'||datum.kind=='total')"}], "mark": {"type": "text", "align": "center", "baseline": "middle", "fontWeight": "bold"}},
            {"transform": [{"filter": "indexof([10,11],datum.col)>=0 && indexof(['head','total','lab'],datum.kind)<0"}], "mark": {"type": "text", "align": "right", "baseline": "middle"}},
            {"transform": [{"filter": "indexof([10,11],datum.col)>=0 && (datum.kind=='head'||datum.kind=='total')"}], "mark": {"type": "text", "align": "right", "baseline": "middle", "fontWeight": "bold"}},
            {"transform": [{"filter": "datum.kind=='lab'"}], "mark": {"type": "text", "align": "center", "baseline": "middle", "font": "Liberation Serif", "fontWeight": "bold"}, "encoding": {"size": {"value": 18}}}
          ]
        }
      ],
      "resolve": {"scale": {"x": "independent"}, "axis": {"x": "independent"}}
    },
    {
      "width": 758, "height": 214,
      "layer": [
        {
          "encoding": {
            "x": {"type": "quantitative", "scale": {"domain": [0.2, 0.5], "range": [380, 516], "nice": false, "zero": false},
                  "axis": {"orient": "bottom", "values": [0.2,0.3,0.4,0.5], "labelExpr": "'' + datum.value", "grid": false, "domainColor": "black", "tickColor": "black", "tickSize": 7, "labelFontSize": 13, "labelColor": "black", "labelPadding": 8, "labelFlush": false, "labelOverlap": false, "title": null}},
            "y": {"type": "quantitative", "scale": {"domain": [-6.51, 7.57], "reverse": true, "nice": false, "zero": false}, "axis": null}
          },
          "layer": [
            {"data": {"name": "est"}, "transform": [{"filter": "datum.p=='D'"}], "mark": {"type": "rule", "color": "black", "strokeWidth": 1.2},
             "encoding": {"x": {"field": "lo"}, "x2": {"field": "hi"}, "y": {"field": "row"}}},
            {"data": {"name": "ref"}, "transform": [{"filter": "datum.p=='D' && datum.lt=='pooled'"}], "mark": {"type": "rule", "color": "black", "strokeWidth": 1, "strokeDash": [2, 2]},
             "encoding": {"x": {"field": "x"}, "y": {"field": "from"}, "y2": {"field": "to"}}},
            {"data": {"name": "est"}, "transform": [{"filter": "datum.p=='D'"}], "mark": {"type": "square", "color": "black", "filled": true, "opacity": 1},
             "encoding": {"x": {"field": "est"}, "y": {"field": "row"},
                          "size": {"field": "w", "type": "quantitative", "scale": {"domain": [0, 100], "range": [0, 1000]}, "legend": null}}},
            {"data": {"name": "dia"}, "transform": [{"filter": "datum.p=='D'"}], "mark": {"type": "trail", "color": "black"},
             "encoding": {"x": {"field": "x"}, "y": {"field": "row"}, "detail": {"field": "row", "type": "quantitative"},
                          "size": {"field": "v", "type": "ordinal", "scale": {"type": "ordinal", "domain": ["tip", "mid"], "range": [0, 10.5]}, "legend": null}}},
            {"data": {"name": "dia"}, "transform": [{"filter": "datum.p=='D'"}], "mark": {"type": "trail", "color": "#8c8c8c"},
             "encoding": {"x": {"field": "x"}, "y": {"field": "row"}, "detail": {"field": "row", "type": "quantitative"},
                          "size": {"field": "v", "type": "ordinal", "scale": {"type": "ordinal", "domain": ["tip", "mid"], "range": [0, 9]}, "legend": null}}}
          ],
          "resolve": {"scale": {"size": "independent"}}
        },
        {
          "data": {"name": "cells"},
          "transform": [{"filter": "datum.p=='D'"}],
          "encoding": {
            "x": {"field": "col", "type": "quantitative", "scale": {"domain": [0,1,2,3,4,5,6,7,8], "range": [11,55,254,263,361,590,663,718,743], "nice": false, "zero": false}, "axis": null},
            "y": {"field": "row", "type": "quantitative", "scale": {"domain": [-6.51, 7.57], "reverse": true, "nice": false, "zero": false}, "axis": null},
            "text": {"field": "txt"},
            "color": {"value": "black"},
            "size": {"condition": [{"test": "datum.kind=='het'", "value": 12}], "value": 12.8}
          },
          "layer": [
            {"transform": [{"filter": "datum.col==1 && indexof(['head','total','lab'],datum.kind)<0"}], "mark": {"type": "text", "align": "left", "baseline": "middle"}},
            {"transform": [{"filter": "datum.col==1 && (datum.kind=='head'||datum.kind=='total')"}], "mark": {"type": "text", "align": "left", "baseline": "middle", "fontWeight": "bold"}},
            {"transform": [{"filter": "indexof([2,3,5,6,7],datum.col)>=0 && indexof(['head','total','lab'],datum.kind)<0"}], "mark": {"type": "text", "align": "center", "baseline": "middle"}},
            {"transform": [{"filter": "indexof([2,3,5,6,7],datum.col)>=0 && (datum.kind=='head'||datum.kind=='total')"}], "mark": {"type": "text", "align": "center", "baseline": "middle", "fontWeight": "bold"}},
            {"transform": [{"filter": "indexof([4,8],datum.col)>=0 && indexof(['head','total','lab'],datum.kind)<0"}], "mark": {"type": "text", "align": "right", "baseline": "middle"}},
            {"transform": [{"filter": "indexof([4,8],datum.col)>=0 && (datum.kind=='head'||datum.kind=='total')"}], "mark": {"type": "text", "align": "right", "baseline": "middle", "fontWeight": "bold"}},
            {"transform": [{"filter": "datum.kind=='lab'"}], "mark": {"type": "text", "align": "center", "baseline": "middle", "font": "Liberation Serif", "fontWeight": "bold"}, "encoding": {"size": {"value": 18}}}
          ]
        }
      ],
      "resolve": {"scale": {"x": "independent"}, "axis": {"x": "independent"}}
    },
    {
      "width": 758, "height": 156,
      "layer": [
        {
          "encoding": {
            "x": {"type": "quantitative", "scale": {"type": "log", "domain": [0.01, 100], "range": [488, 594], "nice": false},
                  "axis": {"orient": "bottom", "values": [0.01,0.1,1,10,100], "labelExpr": "'' + datum.value", "grid": false, "domainColor": "black", "tickColor": "black", "tickSize": 5, "labelFontSize": 10.5, "labelColor": "black", "labelPadding": 3, "labelFlush": false, "labelOverlap": false, "title": "MS<HC\u00a0\u00a0\u00a0MS>HC", "titleFontSize": 10.5, "titleFontWeight": "normal", "titleColor": "black", "titlePadding": 1}},
            "y": {"type": "quantitative", "scale": {"domain": [-6.38, 5.94], "reverse": true, "nice": false, "zero": false}, "axis": null}
          },
          "layer": [
            {"data": {"name": "est"}, "transform": [{"filter": "datum.p=='E'"}], "mark": {"type": "rule", "color": "black", "strokeWidth": 1},
             "encoding": {"x": {"field": "lo"}, "x2": {"field": "hi"}, "y": {"field": "row"}}},
            {"data": {"name": "ref"}, "transform": [{"filter": "datum.p=='E' && datum.lt=='null'"}], "mark": {"type": "rule", "color": "black", "strokeWidth": 1},
             "encoding": {"x": {"field": "x"}, "y": {"field": "from"}, "y2": {"field": "to"}}},
            {"data": {"name": "ref"}, "transform": [{"filter": "datum.p=='E' && datum.lt=='pooled'"}], "mark": {"type": "rule", "color": "black", "strokeWidth": 1, "strokeDash": [2, 2]},
             "encoding": {"x": {"field": "x"}, "y": {"field": "from"}, "y2": {"field": "to"}}},
            {"data": {"name": "est"}, "transform": [{"filter": "datum.p=='E'"}], "mark": {"type": "square", "color": "black", "filled": true, "opacity": 1},
             "encoding": {"x": {"field": "est"}, "y": {"field": "row"},
                          "size": {"field": "w", "type": "quantitative", "scale": {"domain": [0, 100], "range": [0, 270]}, "legend": null}}},
            {"data": {"name": "dia"}, "transform": [{"filter": "datum.p=='E'"}], "mark": {"type": "trail", "color": "black"},
             "encoding": {"x": {"field": "x"}, "y": {"field": "row"}, "detail": {"field": "row", "type": "quantitative"},
                          "size": {"field": "v", "type": "ordinal", "scale": {"type": "ordinal", "domain": ["tip", "mid"], "range": [0, 8]}, "legend": null}}},
            {"data": {"name": "dia"}, "transform": [{"filter": "datum.p=='E'"}], "mark": {"type": "trail", "color": "#8c8c8c"},
             "encoding": {"x": {"field": "x"}, "y": {"field": "row"}, "detail": {"field": "row", "type": "quantitative"},
                          "size": {"field": "v", "type": "ordinal", "scale": {"type": "ordinal", "domain": ["tip", "mid"], "range": [0, 6.5]}, "legend": null}}}
          ],
          "resolve": {"scale": {"size": "independent"}}
        },
        {
          "data": {"name": "cells"},
          "transform": [{"filter": "datum.p=='E'"}],
          "encoding": {
            "x": {"field": "col", "type": "quantitative", "scale": {"domain": [0,1,2,3,4,5,6,7,8,9], "range": [11,62,180,293,327,437,542,622,647,710], "nice": false, "zero": false}, "axis": null},
            "y": {"field": "row", "type": "quantitative", "scale": {"domain": [-6.38, 5.94], "reverse": true, "nice": false, "zero": false}, "axis": null},
            "text": {"field": "txt"},
            "color": {"value": "black"},
            "size": {"condition": [{"test": "datum.kind=='head'", "value": 10.2}, {"test": "datum.kind=='het'", "value": 9.5}], "value": 10.5}
          },
          "layer": [
            {"transform": [{"filter": "indexof([1,2,3,4,5,7,8,9],datum.col)>=0 && indexof(['head','total','lab'],datum.kind)<0"}], "mark": {"type": "text", "align": "left", "baseline": "middle"}},
            {"transform": [{"filter": "indexof([1,2,3,4,5,7,8,9],datum.col)>=0 && (datum.kind=='head'||datum.kind=='total')"}], "mark": {"type": "text", "align": "left", "baseline": "middle", "fontWeight": "bold"}},
            {"transform": [{"filter": "datum.col==6 && (datum.kind=='head'||datum.kind=='total')"}], "mark": {"type": "text", "align": "center", "baseline": "middle", "fontWeight": "bold"}},
            {"transform": [{"filter": "datum.kind=='lab'"}], "mark": {"type": "text", "align": "center", "baseline": "middle", "font": "Liberation Serif", "fontWeight": "bold"}, "encoding": {"size": {"value": 18}}}
          ]
        }
      ],
      "resolve": {"scale": {"x": "independent"}, "axis": {"x": "independent"}}
    }
  ]
}
